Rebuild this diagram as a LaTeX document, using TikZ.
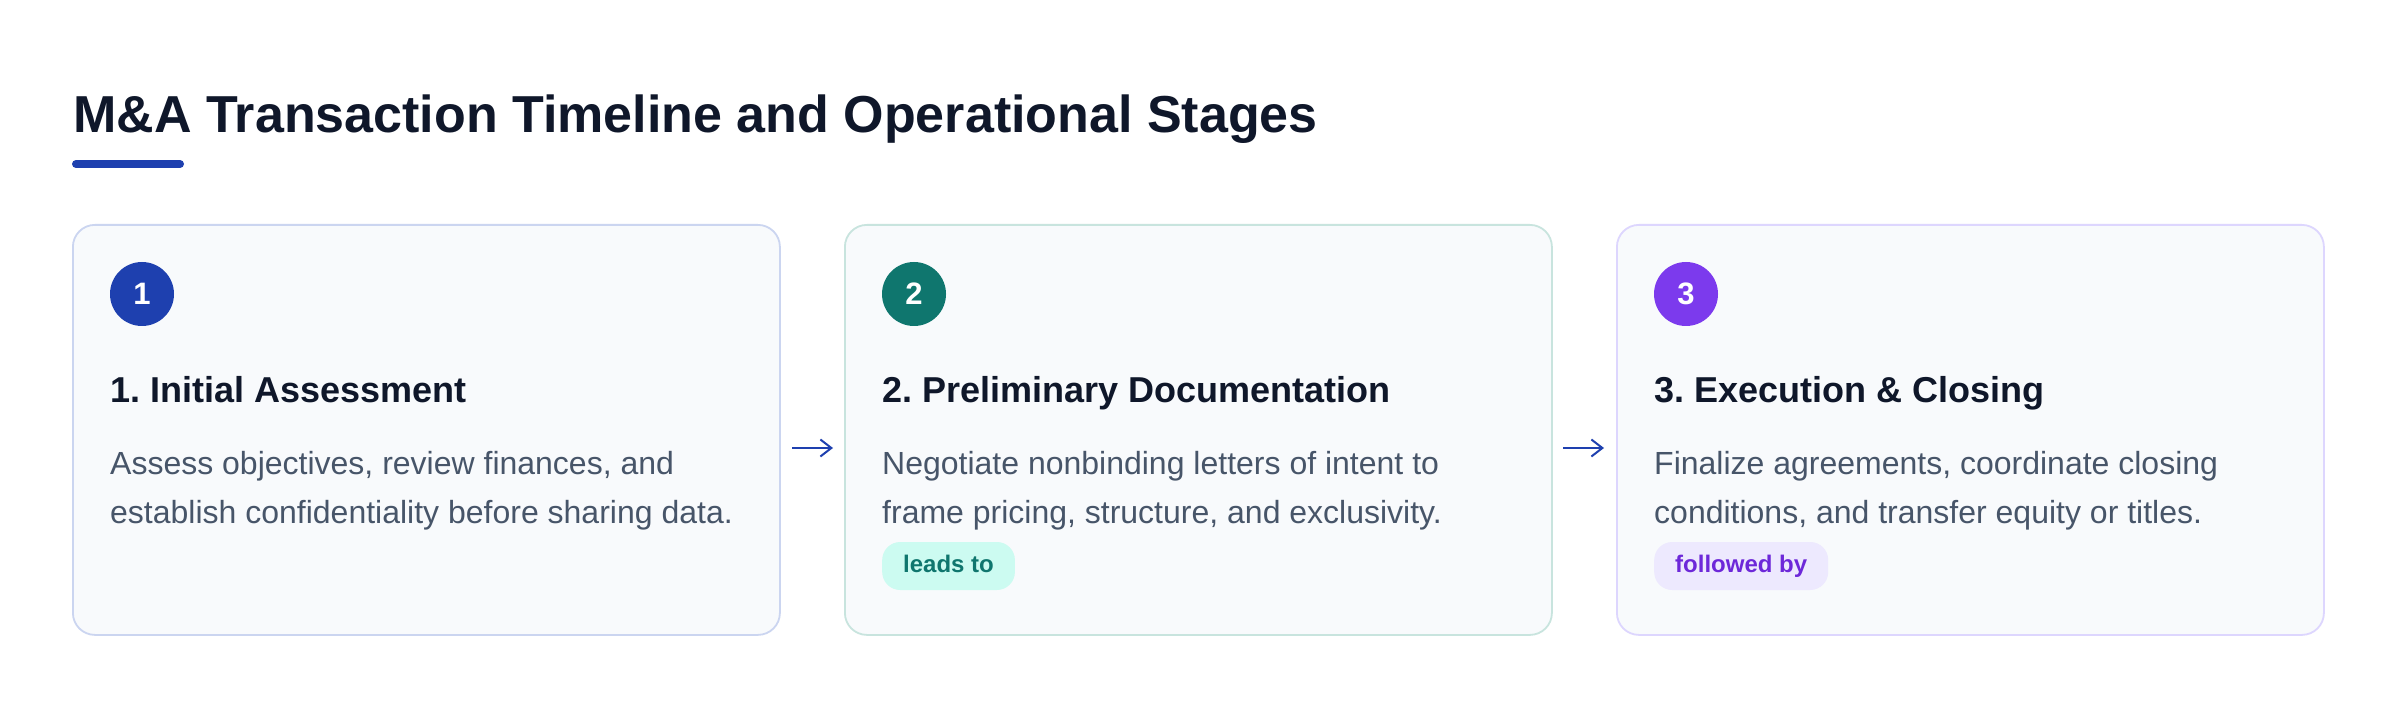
\documentclass[tikz,border=0pt]{standalone}
\usepackage{fontspec}
\setmainfont{Liberation Sans}
\usetikzlibrary{arrows.meta}
\frenchspacing
\definecolor{ink}{HTML}{0F172A}
\definecolor{bodytx}{HTML}{475569}
\definecolor{cardfill}{HTML}{F8FAFC}
\definecolor{blueA}{HTML}{1E40AF}
\definecolor{tealA}{HTML}{0F766E}
\definecolor{purpA}{HTML}{7C3AED}
\definecolor{bdrA}{RGB}{203,213,240}
\definecolor{bdrB}{RGB}{200,228,222}
\definecolor{bdrC}{RGB}{221,214,254}
\definecolor{tealbg}{HTML}{CCFBF1}
\definecolor{purpbg}{HTML}{EDE9FE}
\definecolor{purptx}{HTML}{6D28D9}
\tikzset{
  card/.style={draw, line width=1.8pt, fill=cardfill, rounded corners=22pt,
    minimum width=707pt, minimum height=410pt, anchor=north west, inner sep=0pt},
  stepnum/.style={circle, minimum size=64pt, inner sep=0pt, text=white,
    font=\fontsize{31}{36}\selectfont\bfseries},
  headtx/.style={anchor=base west, inner sep=0pt, text=ink,
    font=\fontsize{36}{42}\selectfont\bfseries},
  bodyline/.style={anchor=base west, inner sep=0pt, text=bodytx,
    font=\fontsize{32}{38}\selectfont},
  badge/.style={anchor=west, rounded corners=18pt, minimum height=48pt,
    inner xsep=21pt, inner ysep=0pt, text height=17pt, text depth=5pt,
    font=\fontsize{24}{28}\selectfont\bfseries},
  flow/.style={draw=blueA, line width=2pt, -{Straight Barb[length=11pt,width=17pt,line width=2pt]}}
}
\begin{document}
\begin{tikzpicture}[x=1pt,y=-1pt]
\useasboundingbox[fill=white] (0,0) rectangle (2400,708);

% title
\node[anchor=base west, inner sep=0pt, text=ink,
  font=\fontsize{52}{60}\selectfont\bfseries] (title) at (73,133)
  {M\&A Transaction Timeline and Operational Stages};
\coordinate (barL) at (76,164);
\coordinate (barR) at (180,164);
\draw[blueA, line width=8pt, line cap=round] (barL) -- (barR);

% cards
\node[card, draw=bdrA] (card1) at (72,224) {};
\node[card, draw=bdrB] (card2) at (844,224) {};
\node[card, draw=bdrC] (card3) at (1616,224) {};

% step numbers
\node[stepnum, fill=blueA] (n1) at (142,294) {1};
\node[stepnum, fill=tealA] (n2) at (914,294) {2};
\node[stepnum, fill=purpA] (n3) at (1686,294) {3};

% headings
\node[headtx] (h1) at (110,402) {1. Initial Assessment};
\node[headtx] (h2) at (882,402) {2. Preliminary Documentation};
\node[headtx] (h3) at (1654,402) {3. Execution \& Closing};

% body text
\node[bodyline] (b1a) at (110,474) {Assess objectives, review finances, and};
\node[bodyline] (b1b) at (110,523) {establish confidentiality before sharing data.};
\node[bodyline] (b2a) at (882,474) {Negotiate nonbinding letters of intent to};
\node[bodyline] (b2b) at (882,523) {frame pricing, structure, and exclusivity.};
\node[bodyline] (b3a) at (1654,474) {Finalize agreements, coordinate closing};
\node[bodyline] (b3b) at (1654,523) {conditions, and transfer equity or titles.};

% badges
\node[badge, fill=tealbg, text=tealA] (tag2) at (882,566) {leads to};
\node[badge, fill=purpbg, text=purptx] (tag3) at (1654,566) {followed by};

% arrows between cards
\coordinate (a1s) at (792,448);
\coordinate (a1e) at (833,448);
\coordinate (a2s) at (1563,448);
\coordinate (a2e) at (1604,448);
\draw[flow] (a1s) -- (a1e);
\draw[flow] (a2s) -- (a2e);
\end{tikzpicture}
\end{document}
